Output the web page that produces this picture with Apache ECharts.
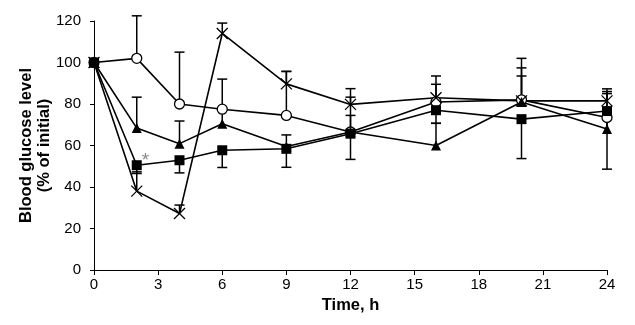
<!DOCTYPE html>
<html>
<head>
<meta charset="utf-8">
<script src="https://cdn.jsdelivr.net/npm/echarts@6/dist/echarts.min.js"></script>
<style>
  html, body { margin: 0; padding: 0; background: #fff; }
  #chart { width: 635px; height: 325px; }
</style>
</head>
<body>
<div id="chart"></div>
<script>
// sampling times (h)
const hours = [0, 2, 4, 6, 9, 12, 16, 20, 24];

// open circles
const circleVals = [100, 102, 80, 77.5, 74.5, 66.5, 81, 82, 73.5];
const circleUpper = [null, 122.5, 105, 92, 95.7, 83.3, 89.5, 97.4, 86];
// crosses
const crossVals = [100, 38, 27.2, 114, 89.7, 79.8, 83, 81.5, 81.5];
const crossUpper = [null, 47.3, 31.3, 119, 95.7, 87.4, 93.5, 102, 87.3];
// filled triangles
const triVals = [100, 68.4, 60.9, 70.5, 59.5, 66.5, 60, 81, 68];
const triUpper = [null, 83.3, 71.8, 77, 65.1, 74.5, 70.7, 93.5, 85];
// filled squares
const sqVals = [100, 50.5, 52.9, 57.7, 58.4, 65.7, 77, 72.7, 76.6];
const sqLower = [null, 46.5, 46.8, 49.4, 49.5, 53.3, 70.7, 53.7, 48.6];

const FONT = "'Liberation Sans', Arial, sans-serif";

const pairs = (vals) => hours.map((h, i) => [h, vals[i]]);
const bars = (vals, bounds) =>
  hours.map((h, i) => [h, vals[i], bounds[i]]).filter((d) => d[2] != null);

function renderErrorBar(params, api) {
  const p0 = api.coord([api.value(0), api.value(1)]);
  const p1 = api.coord([api.value(0), api.value(2)]);
  const hw = 5;
  const style = { stroke: "#000", lineWidth: 1.5 };
  return {
    type: "group",
    children: [
      { type: "line", shape: { x1: p0[0], y1: p0[1], x2: p1[0], y2: p1[1] }, style: style },
      { type: "line", shape: { x1: p1[0] - hw, y1: p1[1], x2: p1[0] + hw, y2: p1[1] }, style: style },
    ],
  };
}

function errorSeries(vals, bounds) {
  return {
    type: "custom",
    renderItem: renderErrorBar,
    encode: { x: 0, y: [1, 2] },
    data: bars(vals, bounds),
    z: 1,
    silent: true,
  };
}

function lineSeries(name, vals, symbol, size, itemStyle) {
  return {
    name: name,
    type: "line",
    data: pairs(vals),
    symbol: symbol,
    symbolSize: size,
    showAllSymbol: true,
    lineStyle: { color: "#000", width: 1.6 },
    itemStyle: itemStyle,
    z: 3,
    animation: false,
  };
}

const sqData = pairs(sqVals).map((d, i) =>
  i === 1
    ? {
        value: d,
        label: {
          show: true,
          formatter: "*",
          position: [10, -9],
          color: "#888",
          fontSize: 19,
          fontFamily: FONT,
        },
      }
    : d
);

const chart = echarts.init(document.getElementById("chart"));

const option = {
  animation: false,
  grid: { left: 94, right: 28, top: 21, bottom: 55 },
  xAxis: {
    type: "value",
    min: 0,
    max: 24,
    interval: 3,
    name: "Time, h",
    nameLocation: "middle",
    nameGap: 27,
    nameTextStyle: { fontFamily: FONT, fontWeight: "bold", fontSize: 16.5, color: "#000" },
    axisLine: { lineStyle: { color: "#000", width: 1 } },
    axisTick: { show: true, length: 5, lineStyle: { color: "#000" } },
    axisLabel: { fontFamily: FONT, fontSize: 15, color: "#000", margin: 7 },
    splitLine: { show: false },
  },
  yAxis: {
    type: "value",
    min: 0,
    max: 120,
    interval: 20,
    name: "Blood glucose level\n(% of initial)",
    nameLocation: "middle",
    nameGap: 41,
    nameMoveOverlap: false,
    nameRotate: 90,
    nameTextStyle: {
      fontFamily: FONT,
      fontWeight: "bold",
      fontSize: 16.5,
      lineHeight: 18,
      color: "#000",
    },
    axisLine: { show: true, lineStyle: { color: "#000", width: 1 } },
    axisTick: { show: true, length: 4, lineStyle: { color: "#000" } },
    axisLabel: { fontFamily: FONT, fontSize: 15, color: "#000", margin: 13 },
    splitLine: { show: false },
  },
  series: [
    errorSeries(circleVals, circleUpper),
    errorSeries(crossVals, crossUpper),
    errorSeries(triVals, triUpper),
    errorSeries(sqVals, sqLower),
    lineSeries("circle", circleVals, "circle", 10, {
      color: "#fff",
      borderColor: "#000",
      borderWidth: 1.3,
    }),
    lineSeries("cross", crossVals, "path://M0,0L10,10M10,0L0,10", 11, {
      color: "transparent",
      borderColor: "#000",
      borderWidth: 1.3,
    }),
    lineSeries("triangle", triVals, "triangle", 10, { color: "#000" }),
    Object.assign(lineSeries("square", sqVals, "rect", 10, { color: "#000" }), {
      data: sqData,
    }),
  ],
};

chart.setOption(option);
</script>
</body>
</html>
